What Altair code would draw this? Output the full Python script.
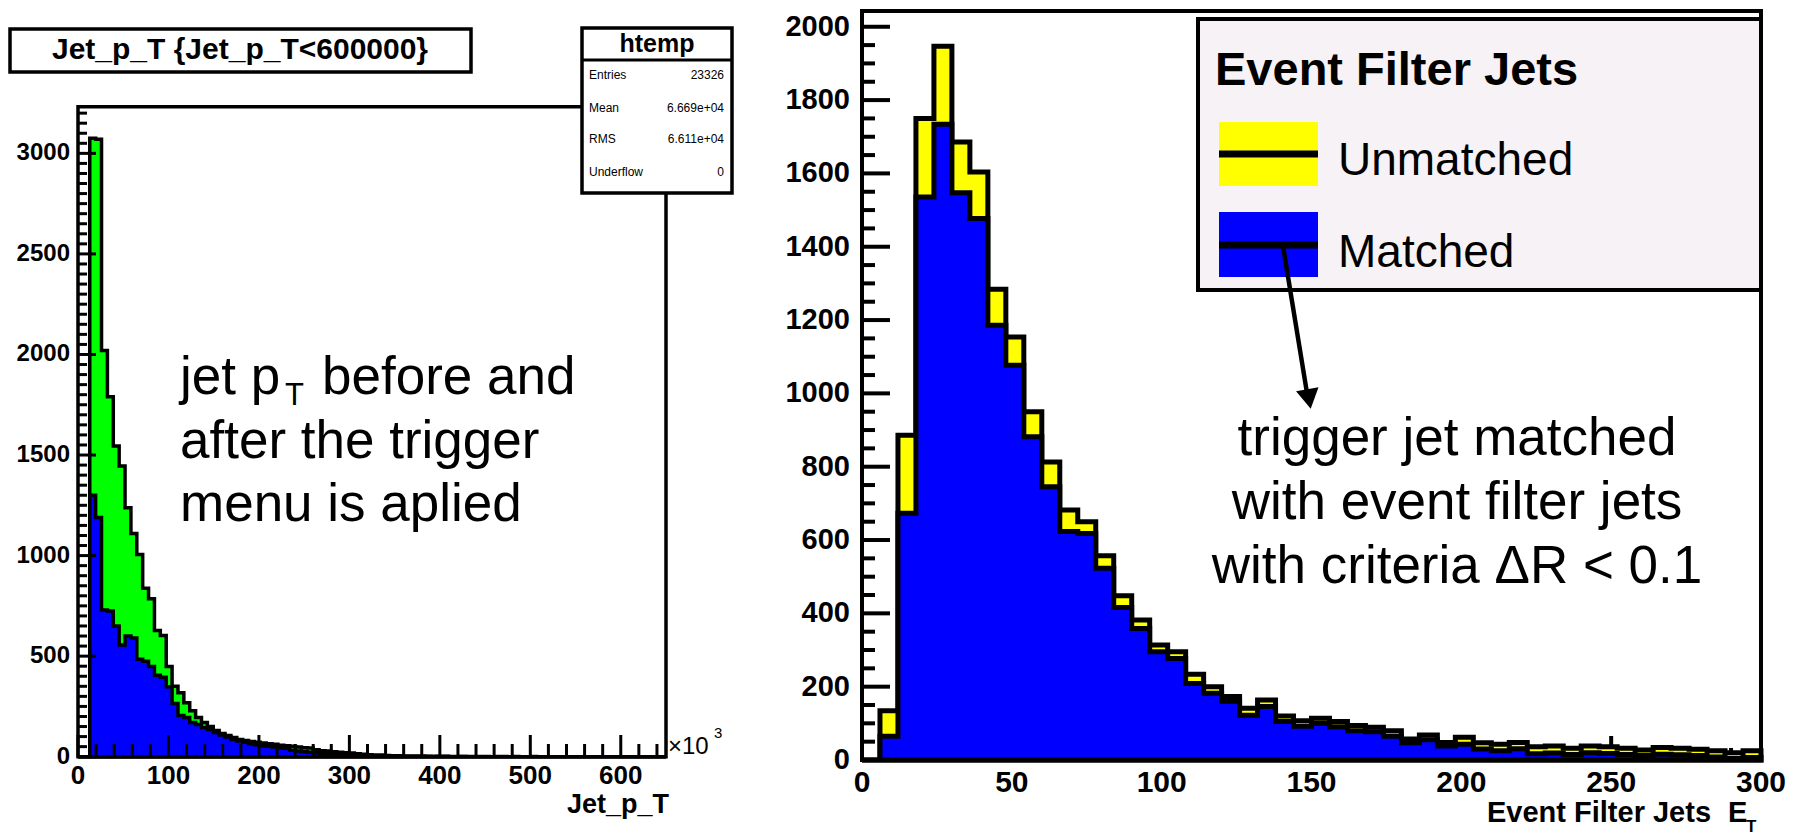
import altair as alt
import pandas as pd

# ---------------- Left panel: Jet_p_T (x10^3), 100 bins of width 6.5 ----------------
left_bin_width = 6.5
left_total = [0, 0, 3075, 3070, 2020, 1790, 1545, 1445, 1238, 1110,
              1005, 838, 786, 628, 603, 449, 350, 318, 268, 228,
              195, 170, 150, 130, 115, 105, 95, 85, 80, 75,
              72, 68, 65, 62, 57, 55, 52, 48, 45, 43,
              35, 30, 28, 25, 22, 20, 18, 15, 12, 10,
              8, 8, 6, 5, 5, 4, 4, 3, 3, 2,
              2, 2, 2, 1, 1, 1, 1, 1, 1, 1,
              0, 1, 1, 0, 1, 0, 0, 1, 0, 0,
              0, 0, 0, 0, 0, 0, 0, 0, 0, 0,
              0, 0, 0, 0, 0, 0, 0, 0, 0, 0]
left_matched = [0, 0, 1300, 1190, 730, 725, 650, 555, 600, 590,
                485, 475, 448, 405, 395, 348, 265, 205, 195, 170,
                160, 145, 135, 120, 108, 98, 85, 78, 72, 65,
                60, 55, 52, 48, 45, 42, 32, 28, 25, 22,
                20, 16, 13, 12, 10, 9, 8, 6, 5, 4,
                3, 3, 2, 2, 2, 1, 1, 1, 1, 1,
                0, 1, 1, 0, 0, 1, 0, 0, 0, 0,
                0, 0, 0, 0, 0, 0, 0, 0, 0, 0,
                0, 0, 0, 0, 0, 0, 0, 0, 0, 0,
                0, 0, 0, 0, 0, 0, 0, 0, 0, 0]
left_x_major = [0, 100, 200, 300, 400, 500, 600]
left_y_major = [0, 500, 1000, 1500, 2000, 2500, 3000]
left_x_minor = [v for v in range(0, 650, 20) if v % 100]
left_y_minor = [v for v in range(0, 3232, 50) if v % 500]
stats_names = ["Entries", "Mean", "RMS", "Underflow"]
stats_values = ["23326", "6.669e+04", "6.611e+04", "0"]
left_title = "Jet_p_T {Jet_p_T<600000}"
left_note = ["after the trigger", "menu is aplied"]

# ---------------- Right panel: Event Filter Jets E_T, 50 bins of width 6 ----------------
right_bin_width = 6
right_total = [0, 134, 886, 1750, 1947, 1686, 1604, 1284, 1154, 950,
               813, 682, 650, 557, 448, 382, 314, 295, 234, 200,
               173, 141, 164, 120, 107, 114, 105, 94, 89, 80,
               57, 68, 48, 62, 47, 43, 48, 36, 38, 32,
               38, 36, 32, 27, 34, 32, 29, 25, 20, 25]
right_matched = [0, 65, 673, 1536, 1734, 1547, 1477, 1186, 1077, 882,
                 745, 623, 618, 523, 416, 359, 295, 277, 209, 182,
                 160, 122, 146, 105, 92, 100, 91, 80, 77, 65,
                 47, 55, 38, 43, 30, 25, 31, 17, 19, 15,
                 20, 18, 15, 12, 16, 14, 12, 8, 4, 7]
right_x_major = [0, 50, 100, 150, 200, 250, 300]
right_y_major = [0, 200, 400, 600, 800, 1000, 1200, 1400, 1600, 1800, 2000]
right_x_minor = [v for v in range(0, 301, 10) if v % 50]
right_y_minor = [v for v in range(0, 2043, 50) if v % 200]
legend_title = "Event Filter Jets"
legend_labels = ["Unmatched", "Matched"]
right_note = ["trigger jet matched", "with event filter jets", "with criteria \u0394R < 0.1"]

FONT = "Liberation Sans, Arial, Helvetica, sans-serif"
NARROW = "Liberation Sans Narrow, Arial Narrow, Liberation Sans, Arial, sans-serif"

# scales (explicit pixel ranges so both panels live in one canvas)
LX = alt.Scale(domain=[0, 650], range=[78, 666], nice=False)
LY = alt.Scale(domain=[0, 3232], range=[756.7, 106.7], nice=False)
RX = alt.Scale(domain=[0, 300], range=[862, 1761], nice=False)
RY = alt.Scale(domain=[0, 2043], range=[760, 11], nice=False)


def step_df(width, values):
    n = len(values)
    return pd.DataFrame({"x": [i * width for i in range(n + 1)],
                         "y": list(values) + [values[-1]]})


def hist(values, width, xs, ys, fill, sw):
    return alt.Chart(step_df(width, values)).mark_area(
        interpolate="step-after", fill=fill, stroke="black", strokeWidth=sw,
        strokeJoin="miter"
    ).encode(
        x=alt.X("x:Q", scale=xs, axis=None),
        y=alt.Y("y:Q", scale=ys, axis=None),
        y2=alt.datum(0),
    )


def yticks(vals, ys, x1, x2, sw):
    return alt.Chart(pd.DataFrame({"v": vals})).mark_rule(color="black", strokeWidth=sw).encode(
        y=alt.Y("v:Q", scale=ys, axis=None), x=alt.value(x1), x2=alt.value(x2))


def xticks(vals, xs, y1, y2, sw):
    return alt.Chart(pd.DataFrame({"v": vals})).mark_rule(color="black", strokeWidth=sw).encode(
        x=alt.X("v:Q", scale=xs, axis=None), y=alt.value(y1), y2=alt.value(y2))


def ylabels(vals, ys, x, size, font):
    df = pd.DataFrame({"v": vals, "s": [str(v) for v in vals]})
    return alt.Chart(df).mark_text(align="right", baseline="middle", font=font,
                                   fontSize=size, fontWeight="bold", color="black").encode(
        y=alt.Y("v:Q", scale=ys, axis=None), x=alt.value(x), text="s:N")


def xlabels(vals, xs, y, size, font):
    df = pd.DataFrame({"v": vals, "s": [str(v) for v in vals]})
    return alt.Chart(df).mark_text(align="center", baseline="alphabetic", font=font,
                                   fontSize=size, fontWeight="bold", color="black").encode(
        x=alt.X("v:Q", scale=xs, axis=None), y=alt.value(y), text="s:N")


def txt(s, x, y, size, weight="normal", align="left", font=FONT):
    return alt.Chart(pd.DataFrame({"t": [s]})).mark_text(
        align=align, baseline="alphabetic", font=font, fontSize=size,
        fontWeight=weight, color="black").encode(
        x=alt.value(x), y=alt.value(y), text="t:N")


def box(x1, x2, y1, y2, fill, sw, opacity=1.0):
    return alt.Chart(pd.DataFrame({"t": [0]})).mark_rect(
        fill=fill, fillOpacity=opacity, stroke="black", strokeWidth=sw).encode(
        x=alt.value(x1), x2=alt.value(x2), y=alt.value(y1), y2=alt.value(y2))


def hline(x1, x2, y, sw):
    return alt.Chart(pd.DataFrame({"t": [0]})).mark_rule(color="black", strokeWidth=sw).encode(
        x=alt.value(x1), x2=alt.value(x2), y=alt.value(y))


layers = []

# ---------- left panel ----------
layers += [
    hist(left_total, left_bin_width, LX, LY, "#00ff00", 3.5),
    hist(left_matched, left_bin_width, LX, LY, "#0000ff", 3.5),
    yticks(left_y_major, LY, 78, 96, 3),
    yticks(left_y_minor, LY, 78, 87, 3),
    xticks(left_x_major, LX, 756.7, 735, 3),
    xticks(left_x_minor, LX, 756.7, 744, 3),
    box(78, 666, 106.7, 756.7, "white", 3.5, 0.0),
    ylabels(left_y_major, LY, 70, 24, FONT),
    xlabels(left_x_major, LX, 784, 26, FONT),
    txt("\u00d710", 668, 754, 24),
    txt("3", 714, 738, 15),
    txt("Jet_p_T", 669, 813, 27, "bold", "right"),
    box(10, 471, 29, 72, "white", 3.5),
    txt(left_title, 240, 59, 30, "bold", "center"),
    box(582, 732, 28, 193, "white", 3.5),
    hline(582, 732, 60, 3),
    txt("htemp", 657, 52, 25, "bold", "center"),
]
for i, (n, v) in enumerate(zip(stats_names, stats_values)):
    yb = [79, 112, 143, 176][i]
    layers.append(txt(n, 589, yb, 12))
    layers.append(txt(v, 724, yb, 12, align="right"))

layers += [
    txt("jet p", 180, 394, 53),
    txt("T", 285, 405, 31),
    txt("before and", 322, 394, 53),
    txt(left_note[0], 180, 458, 53),
    txt(left_note[1], 180, 521, 53),
]

# ---------- right panel ----------
layers += [
    yticks(right_y_major, RY, 862, 890, 4),
    yticks(right_y_minor, RY, 862, 875, 4),
    xticks(right_x_major, RX, 760, 736, 4),
    xticks(right_x_minor, RX, 760, 748, 4),
    hist(right_total, right_bin_width, RX, RY, "#ffff00", 5),
    hist(right_matched, right_bin_width, RX, RY, "#0000ff", 5),
    box(862, 1761, 11, 760, "white", 4, 0.0),
    ylabels(right_y_major, RY, 850, 29, NARROW),
    xlabels(right_x_major, RX, 792, 30, NARROW),
    txt("Event Filter Jets", 1487, 822, 29, "bold"),
    txt("E", 1728, 822, 29, "bold"),
    txt("T", 1746, 832, 17, "bold"),
    # legend
    box(1198, 1761, 19, 290, "#f6f2f6", 4),
    txt(legend_title, 1215, 85, 47, "bold"),
    alt.Chart(pd.DataFrame({"t": [0]})).mark_rect(fill="#ffff00").encode(
        x=alt.value(1219), x2=alt.value(1318), y=alt.value(122), y2=alt.value(186)),
    hline(1219, 1318, 154, 7),
    alt.Chart(pd.DataFrame({"t": [0]})).mark_rect(fill="#0000ff").encode(
        x=alt.value(1219), x2=alt.value(1318), y=alt.value(212), y2=alt.value(277)),
    hline(1219, 1318, 245, 7),
    txt(legend_labels[0], 1338, 175, 46),
    txt(legend_labels[1], 1338, 267, 46),
    # arrow
    alt.Chart(pd.DataFrame({"t": [0]})).mark_rule(color="black", strokeWidth=4.5).encode(
        x=alt.value(1283), y=alt.value(246), x2=alt.value(1307), y2=alt.value(393)),
    alt.Chart(pd.DataFrame({"t": [0]})).mark_point(
        shape="triangle-down", filled=True, size=520, color="black", opacity=1, angle=350).encode(
        x=alt.value(1309), y=alt.value(399)),
    txt(right_note[0], 1457, 455, 53, align="center"),
    txt(right_note[1], 1457, 519, 53, align="center"),
    txt(right_note[2], 1457, 583, 53, align="center"),
]

chart = alt.layer(*layers).properties(
    width=1797, height=837, padding=0,
    autosize=alt.AutoSizeParams(type="none"),
    background="white",
).resolve_scale(x="independent", y="independent").configure_view(stroke=None)

chart.save("out.html", embed_options={"renderer": "svg", "actions": False})
